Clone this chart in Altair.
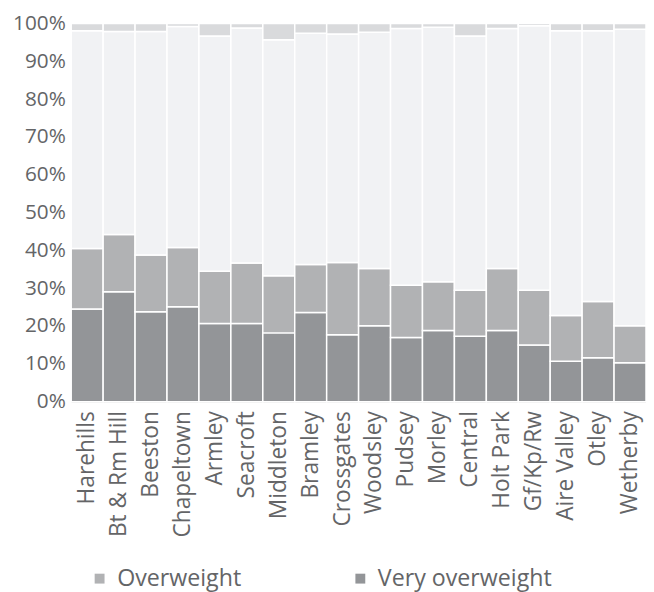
import altair as alt
import pandas as pd

areas = ["Harehills", "Bt & Rm Hill", "Beeston", "Chapeltown", "Armley", "Seacroft",
         "Middleton", "Bramley", "Crossgates", "Woodsley", "Pudsey", "Morley",
         "Central", "Holt Park", "Gf/Kp/Rw", "Aire Valley", "Otley", "Wetherby"]

very_overweight = [24.5, 29.1, 23.8, 25.1, 20.7, 20.7, 18.2, 23.6, 17.7, 20.1, 17.0, 18.8,
                   17.3, 18.8, 15.0, 10.7, 11.6, 10.3]
overweight = [16.0, 15.1, 15.0, 15.7, 13.8, 16.0, 15.1, 12.7, 19.1, 15.1, 13.8, 12.9,
              12.2, 16.4, 14.5, 12.1, 14.9, 9.8]
healthy = [57.6, 53.7, 59.1, 58.4, 62.2, 62.1, 62.4, 61.1, 60.4, 62.5, 67.9, 67.3,
           67.2, 63.5, 69.9, 75.3, 71.6, 78.4]
underweight = [1.9, 2.1, 2.1, 0.8, 3.3, 1.2, 4.3, 2.6, 2.8, 2.3, 1.3, 1.0,
               3.3, 1.3, 0.6, 1.9, 1.9, 1.5]

categories = ["Very overweight", "Overweight", "Healthy weight", "Underweight"]
colors = ["#939598", "#b1b2b4", "#f1f2f4", "#d9dadc"]

rows = []
for i, a in enumerate(areas):
    for k, (cat, vals) in enumerate(zip(categories,
                                        [very_overweight, overweight, healthy, underweight])):
        rows.append({"area": a, "category": cat, "value": vals[i], "ord": k})
df = pd.DataFrame(rows)

FONT = "Open Sans"
TXT = "#646567"

chart = alt.Chart(df).mark_bar(stroke="white", strokeWidth=1.5).encode(
    x=alt.X("area:N", sort=areas, title=None,
            scale=alt.Scale(paddingInner=0, paddingOuter=0),
            axis=alt.Axis(labelAngle=270, labelAlign="right", labelBaseline="middle",
                          labelPadding=9, ticks=False, domain=True, domainColor="#e6e6e6",
                          domainWidth=1.5, labelFont=FONT, labelFontSize=23,
                          labelColor=TXT, labelLimit=0)),
    y=alt.Y("value:Q", stack="normalize", title=None,
            scale=alt.Scale(domain=[0, 1], nice=False),
            axis=alt.Axis(values=[i / 10 for i in range(11)], format=".0%", ticks=False,
                          domain=False, grid=True, gridColor="#e3e3e3", gridWidth=1.5,
                          labelPadding=6, labelFont=FONT, labelFontSize=21,
                          labelColor=TXT)),
    color=alt.Color("category:N", scale=alt.Scale(domain=categories, range=colors),
                    legend=alt.Legend(values=["Overweight", "Very overweight"], title=None,
                                      orient="none", legendX=17, legendY=550,
                                      direction="horizontal", columns=2, columnPadding=108,
                                      symbolType="square", symbolSize=100,
                                      symbolStrokeWidth=0, labelOffset=6, labelLimit=0,
                                      labelFont=FONT, labelFontSize=23.5, labelColor=TXT)),
    order=alt.Order("ord:Q", sort="ascending"),
).properties(
    width=582, height=383,
    autosize=alt.AutoSizeParams(type="none"),
    padding={"left": 64, "top": 12, "right": 0, "bottom": 189},
).configure_view(stroke=None)

chart.save("out.html", embed_options={"renderer": "svg", "actions": False})
